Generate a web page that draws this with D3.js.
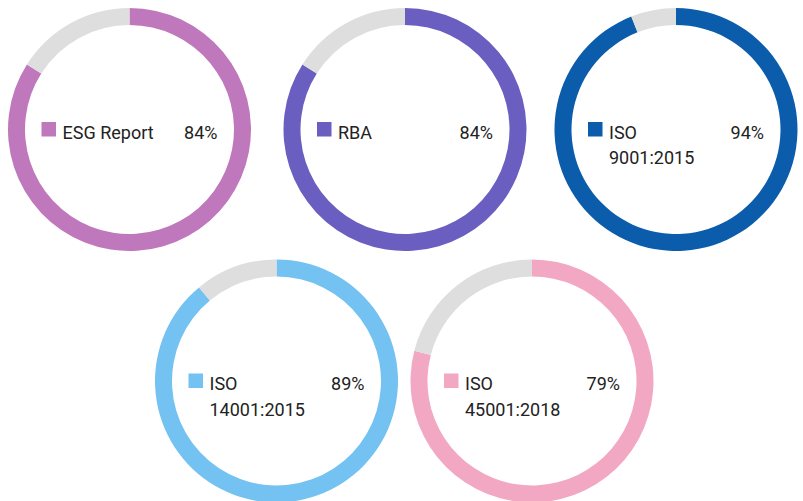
<!DOCTYPE html>
<html>
<head>
<meta charset="utf-8">
<script src="https://cdn.jsdelivr.net/npm/d3@7"></script>
<style>
  html, body { margin: 0; padding: 0; background: #fff; }
  svg { display: block; font-family: Roboto, "Noto Sans", sans-serif; }
</style>
</head>
<body>
<svg id="chart" width="803" height="501"></svg>
<script>
// Certification coverage, one ring per standard
const labels = ["ESG Report", "RBA", "ISO 9001:2015", "ISO 14001:2015", "ISO 45001:2018"];
const values = [84, 84, 94, 89, 79];
const colors = ["#c078bc", "#6a5ec0", "#0b5cab", "#74c2f2", "#f2a8c3"];
const restColor = "#dedede";
const centersX = [129.5, 405, 676, 276.5, 532];
const centersY = [129.5, 129.5, 129.5, 381, 381];

const svg = d3.select("#chart");
const outerR = 121.5, innerR = 104.5;

const pie = d3.pie().sort(null).value(d => d.v);
const arc = d3.arc().innerRadius(innerR).outerRadius(outerR);

labels.forEach((label, i) => {
  const g = svg.append("g").attr("transform", `translate(${centersX[i]},${centersY[i]})`);
  const parts = [{ v: values[i], c: colors[i] }, { v: 100 - values[i], c: restColor }];
  g.selectAll("path").data(pie(parts)).join("path")
    .attr("d", arc)
    .attr("fill", d => d.data.c);

  // legend swatch
  g.append("rect")
    .attr("x", -88).attr("y", -7.5)
    .attr("width", 14.5).attr("height", 14.5)
    .attr("fill", colors[i]);

  // label, wrapped onto a second line when too wide
  const t = g.append("text")
    .attr("x", -67).attr("y", 9)
    .attr("font-size", 18).attr("fill", "#222");
  const words = label.split(" ");
  let line = [];
  let tspan = t.append("tspan").attr("x", -67).attr("dy", 0);
  words.forEach(w => {
    line.push(w);
    tspan.text(line.join(" "));
    if (tspan.node().getComputedTextLength() > 100 && line.length > 1) {
      line.pop();
      tspan.text(line.join(" "));
      line = [w];
      tspan = t.append("tspan").attr("x", -67).attr("dy", 25.5).text(w);
    }
  });

  // percentage
  g.append("text")
    .attr("x", 88).attr("y", 9)
    .attr("text-anchor", "end")
    .attr("font-size", 18).attr("fill", "#222")
    .text(values[i] + "%");
});
</script>
</body>
</html>
